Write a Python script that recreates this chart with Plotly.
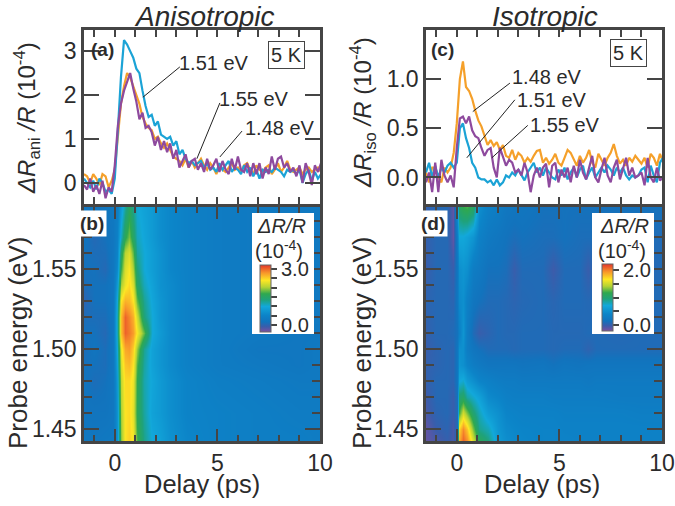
import plotly.graph_objects as go

W, H = 675, 506

delays = [-1.5,-1.35,-1.2,-1.05,-0.9,-0.75,-0.6,-0.45,-0.3,-0.15,
          0,0.15,0.3,0.45,0.6,0.75,0.9,1.05,1.2,1.35,
          1.5,1.65,1.8,1.95,2.1,2.25,2.4,2.55,2.7,2.85,
          3,3.15,3.3,3.45,3.6,3.75,3.9,4.05,4.2,4.35,
          4.5,4.65,4.8,4.95,5.1,5.25,5.4,5.55,5.7,5.85,
          6,6.15,6.3,6.45,6.6,6.75,6.9,7.05,7.2,7.35,
          7.5,7.65,7.8,7.95,8.1,8.25,8.4,8.55,8.7,8.85,
          9,9.15,9.3,9.45,9.6,9.75,9.9,10.05]

ani_148 = [0.2,0.15,0.0,0.2,0.1,-0.05,0.2,0.15,-0.1,0.05,
           0.3,1.1,1.8,2.2,2.5,2.4,2.2,1.95,1.8,1.5,
           1.35,1.25,1.2,1.0,1.05,0.9,0.8,0.9,0.75,0.6,
           0.55,0.5,0.4,0.55,0.35,0.5,0.35,0.45,0.55,0.4,
           0.3,0.45,0.35,0.2,0.4,0.3,0.25,0.35,0.45,0.3,
           0.35,0.25,0.4,0.45,0.3,0.2,0.4,0.3,0.25,0.35,
           0.4,0.2,0.3,0.45,0.25,0.35,0.5,0.3,0.25,0.3,
           0.35,0.2,0.3,0.35,0.25,0.3,0.35,0.25]
ani_151 = [0.1,0.0,-0.1,0.05,-0.15,0.1,0.0,-0.2,-0.15,-0.25,
           0.1,1.2,2.4,3.25,3.15,3.0,2.85,2.6,2.5,2.1,
           1.75,1.5,1.55,1.3,1.4,1.1,1.05,1.0,1.05,0.85,
           0.95,0.65,0.75,0.55,0.45,0.5,0.4,0.45,0.5,0.35,
           0.45,0.3,0.35,0.25,0.45,0.3,0.4,0.5,0.25,0.35,
           0.3,0.2,0.4,0.25,0.35,0.15,0.3,0.1,0.3,0.25,
           0.3,0.25,0.35,0.3,0.25,0.15,0.3,0.25,0.3,0.2,
           0.3,0.0,0.2,0.3,0.05,0.25,0.1,0.2]
ani_155 = [-0.05,-0.15,0.1,-0.2,-0.05,-0.25,0.05,-0.35,-0.1,-0.2,
           0.4,1.3,1.8,2.1,2.3,2.5,2.15,1.85,1.45,1.6,
           1.25,1.3,1.15,0.85,1.05,0.75,0.95,0.7,0.9,0.55,
           0.75,0.35,0.5,0.65,0.35,0.5,0.55,0.3,0.45,0.25,
           0.55,0.3,0.4,0.55,0.25,0.5,0.3,0.2,0.55,0.3,
           0.6,0.3,0.25,0.45,0.15,0.45,0.2,0.45,0.1,0.35,
           0.2,0.6,0.3,0.55,0.6,0.35,0.45,0.25,0.35,0.15,
           0.4,0.0,0.45,0.25,-0.05,0.4,0.25,0.45]

iso_148 = [0.05,-0.05,0.1,0.1,0.0,-0.05,0.1,0.05,0.1,0.25,
           0.55,1.0,1.18,0.92,0.88,0.8,0.68,0.58,0.52,0.42,
           0.33,0.38,0.32,0.36,0.28,0.33,0.22,0.2,0.28,0.18,
           0.25,0.22,0.15,0.2,0.16,0.22,0.27,0.28,0.15,0.2,
           0.14,0.18,0.24,0.15,0.12,0.2,0.28,0.25,0.18,0.12,
           0.22,0.15,0.2,0.28,0.15,0.1,0.24,0.18,0.12,0.2,
           0.25,0.34,0.22,0.14,0.18,0.12,0.2,0.16,0.22,0.18,
           0.14,0.2,0.1,0.24,0.2,0.12,0.24,0.16]
iso_151 = [0.05,0.15,0.0,0.12,0.0,0.1,0.05,0.12,0.15,0.1,
           0.15,0.5,0.55,0.4,0.3,0.15,0.1,0.0,-0.02,-0.02,
           -0.05,-0.03,-0.08,-0.02,-0.08,-0.05,0.02,0.0,0.05,0.02,
           0.08,0.02,-0.03,0.05,0.1,0.15,0.05,0.1,0.02,0.1,
           0.05,0.0,-0.02,0.08,0.02,0.1,-0.02,0.05,0.1,0.0,
           0.08,0.12,-0.02,0.05,0.1,0.0,0.05,0.1,0.05,0.12,
           0.08,0.02,0.1,0.05,0.1,0.02,-0.02,0.02,0.0,0.02,
           0.08,0.1,-0.05,0.12,0.02,-0.05,0.15,0.2]
iso_155 = [-0.05,0.05,-0.15,0.15,-0.15,0.18,0.02,-0.05,0.02,-0.1,
           0.3,0.6,0.62,0.55,0.62,0.48,0.42,0.4,0.3,0.22,
           0.28,0.3,0.1,0.0,0.3,0.22,0.12,0.18,0.15,0.05,
           0.08,0.02,0.15,0.05,-0.15,0.02,0.1,0.0,0.1,0.14,
           -0.1,0.12,0.15,-0.05,0.08,0.0,0.1,-0.05,0.12,0.0,
           0.18,0.05,-0.02,0.1,0.22,0.0,-0.05,0.08,0.2,0.02,
           -0.05,0.1,0.18,-0.02,0.08,0.2,0.02,0.1,0.0,0.02,
           0.05,-0.08,0.2,0.0,-0.05,0.1,-0.03,0.0]

b_delays = [-1.5,-1.0,-0.5,-0.1,0.1,0.3,0.5,0.7,0.9,1.1,1.4,1.8,2.2,2.7,3.5,5,7,9,10]
b_energies = [1.44,1.46,1.48,1.49,1.50,1.51,1.52,1.53,1.54,1.55,1.56,1.57,1.59]
b_z = [
    [.3,.25,.3,.3,.7,1.9,2.4,2.5,2.35,1.75,1.3,1.0,.9,.7,.55,.45,.4,.4,.35],
    [.2,.2,.2,.25,.7,2.0,2.4,2.45,2.25,1.6,1.2,.9,.8,.65,.5,.45,.4,.35,.35],
    [.2,.1,.15,.25,.8,2.1,2.45,2.45,2.3,1.65,1.15,.95,.8,.65,.5,.4,.35,.3,.3],
    [.15,.15,.1,.25,.9,2.2,2.55,2.6,2.4,1.75,1.2,.9,.75,.6,.45,.35,.3,.25,.3],
    [.1,.2,.1,.25,1.0,2.3,2.7,2.75,2.5,1.95,1.25,.9,.75,.6,.45,.35,.25,.25,.3],
    [.15,.15,.05,.25,1.1,2.6,3.0,2.9,2.75,2.35,1.8,1.0,.8,.6,.45,.35,.3,.25,.25],
    [.1,.1,.1,.25,1.1,2.6,3.0,2.85,2.65,2.15,1.35,1.0,.75,.6,.45,.35,.3,.3,.3],
    [.0,.15,.15,.25,1.0,2.4,2.65,2.6,2.4,1.8,1.25,.95,.75,.6,.45,.35,.3,.3,.3],
    [.1,.15,.15,.25,.8,2.0,2.3,2.45,2.2,1.5,1.1,.9,.7,.6,.45,.35,.3,.3,.3],
    [.15,.15,.05,.25,.6,1.7,2.2,2.35,2.0,1.35,1.0,.85,.7,.55,.45,.35,.3,.3,.3],
    [.15,.1,.1,.25,.5,1.5,2.05,2.2,1.8,1.2,1.0,.85,.7,.55,.45,.35,.3,.3,.3],
    [.2,.05,.15,.25,.45,1.1,1.6,1.85,1.5,1.1,.95,.8,.65,.55,.45,.35,.3,.3,.3],
    [.25,.2,.25,.3,.4,.8,1.2,1.5,1.25,1.0,.9,.8,.65,.55,.45,.35,.3,.3,.3],
]

d_delays = [-1.5,-1.0,-0.5,-0.2,0,0.1,0.3,0.5,0.8,1.1,1.5,
            2,2.4,2.8,3.2,4.2,4.7,5.2,6.0,6.4,6.8,8,9,10]
d_energies = [1.44,1.45,1.46,1.47,1.48,1.49,1.50,1.51,1.53,1.55,1.57,1.59]
d_z = [
    [-.12,-.08,.0,-.05,.1,1.9,2.1,2.0,1.6,1.2,1.0,.6,.5,.45,.42,.38,.38,.38,.36,.36,.36,.36,.36,.36],
    [-.12,.0,.05,-.05,.1,1.7,1.95,1.75,1.3,.9,.8,.55,.45,.42,.4,.38,.38,.36,.36,.36,.36,.36,.36,.36],
    [-.05,.05,.08,.0,.1,1.2,1.5,1.3,1.0,.8,.6,.5,.4,.38,.36,.36,.36,.34,.34,.34,.34,.34,.32,.32],
    [-.02,.08,.08,.0,.15,1.0,1.05,.85,.75,.65,.45,.4,.34,.32,.32,.32,.3,.3,.3,.3,.3,.28,.28,.28],
    [.02,.08,.08,.05,.2,.7,.75,.6,.5,.4,.35,.3,.28,.28,.26,.26,.26,.26,.26,.24,.26,.26,.26,.26],
    [.02,.05,.08,.05,.2,.55,.5,.4,.3,.25,.2,.2,.2,.2,.18,.2,.16,.2,.18,.2,.2,.2,.2,.2],
    [.0,.05,.08,.05,.2,.5,.5,.3,.2,.15,.1,.1,.1,.08,.1,.1,.08,.1,.1,.04,.1,.1,.1,.1],
    [.02,.08,.08,.1,.15,.35,.55,.3,.1,.0,.05,.1,.08,.08,.1,.1,.08,.08,.08,.1,.1,.08,.1,.1],
    [.05,.08,.08,.05,.2,.45,.5,.35,.2,.15,.1,.1,.08,.05,.08,.1,.06,.1,.1,.08,.1,.1,.1,.1],
    [.0,.08,.08,.0,.2,.5,.55,.5,.3,.25,.15,.15,.12,.0,.1,.1,-.02,.1,.1,.0,.1,.1,.05,.1],
    [.02,.08,.08,-.12,.3,.7,.7,.65,.55,.35,.25,.2,.16,.12,.15,.12,.12,.15,.12,.12,.12,.12,.12,.1],
    [.02,.08,.08,-.12,.5,1.1,1.2,1.25,1.1,.5,.35,.3,.22,.2,.2,.15,.15,.15,.15,.15,.15,.15,.15,.15],
]

ORANGE, BLUE, PURPLE = "#f5a02a", "#1ba3d6", "#8e4a9e"
INK = "#2b2b2b"
AX = "#454545"
FONT = "Liberation Sans"

scale = [[0, "#7d4f9f"], [0.08, "#3a5dab"], [0.15, "#1273bd"], [0.25, "#0c84c8"], [0.38, "#12a8da"], [0.48, "#1fa27a"],
         [0.57, "#2fa84f"], [0.67, "#b5d334"], [0.77, "#fde724"], [0.88, "#f8982a"], [1, "#e4352a"]]

fig = go.Figure()
for y, c, n in [(ani_148, ORANGE, "1.48 eV"), (ani_151, BLUE, "1.51 eV"), (ani_155, PURPLE, "1.55 eV")]:
    fig.add_trace(go.Scatter(x=delays, y=y, mode="lines", name=n, line=dict(color=c, width=2.2),
                             xaxis="x", yaxis="y", showlegend=False))
for y, c, n in [(iso_148, ORANGE, "1.48 eV"), (iso_151, BLUE, "1.51 eV"), (iso_155, PURPLE, "1.55 eV")]:
    fig.add_trace(go.Scatter(x=delays, y=y, mode="lines", name=n, line=dict(color=c, width=2.2),
                             xaxis="x3", yaxis="y3", showlegend=False))


def fx(px):
    return px / W


def fy(py):
    return 1 - py / H


def cbar(x0, y0, y1, labelled, vals):
    return dict(x=fx(x0), xanchor="left", y=fy((y0 + y1) / 2), yanchor="middle",
                len=(y1 - y0) / H, lenmode="fraction", thickness=11, thicknessmode="pixels",
                xpad=0, ypad=0, outlinewidth=1, outlinecolor="#666", ticks="outside", ticklen=6,
                tickcolor=AX, tickwidth=1.5, tickvals=vals,
                ticktext=[labelled.get(v, "") for v in vals],
                tickfont=dict(family=FONT, size=20, color=INK))


fig.add_trace(go.Heatmap(x=b_delays, y=b_energies, z=b_z, zsmooth="best", colorscale=scale, zmin=-0.37, zmax=3.2,
                         xaxis="x2", yaxis="y2",
                         colorbar=cbar(260, 265, 332, {0: "0.0", 3: "3.0"}, [0, .5, 1, 1.5, 2, 2.5, 3])))
fig.add_trace(go.Heatmap(x=d_delays, y=d_energies, z=d_z, zsmooth="best", colorscale=scale, zmin=-0.2, zmax=2.2,
                         xaxis="x4", yaxis="y4",
                         colorbar=cbar(602, 264, 331, {0: "0.0", 2: "2.0"}, [0, .5, 1, 1.5, 2])))


def ax(**k):
    d = dict(showgrid=False, zeroline=False, showline=True, linecolor=AX, linewidth=2.5, mirror="allticks",
             ticks="inside", tickcolor=AX, tickwidth=2.2, tickfont=dict(family=FONT, size=23, color=INK))
    d.update(k)
    return d


def xdom(a, b):
    return [fx(a), fx(b)]


def ydom(top, bot):
    return [fy(bot), fy(top)]


XR = [-1.5, 10]
fig.update_layout(
    width=W, height=H, autosize=False, margin=dict(l=0, r=0, t=0, b=0, autoexpand=False),
    paper_bgcolor="white", plot_bgcolor="white",
    font=dict(family=FONT, color=INK), showlegend=False,
    xaxis=ax(domain=xdom(84, 320), range=XR, dtick=1, tick0=0, ticklen=7, showticklabels=False, anchor="y"),
    yaxis=ax(domain=ydom(30, 204), range=[-0.48, 3.48], tickvals=[0, 1, 2, 3], ticklen=15, anchor="x"),
    xaxis2=ax(domain=xdom(84, 320), range=XR, tickvals=[0, 5, 10], ticklen=12, anchor="y2",
              minor=dict(dtick=1, tick0=0, ticks="inside", ticklen=6, tickcolor=AX, tickwidth=2)),
    yaxis2=ax(domain=ydom(207, 441), range=[1.4425, 1.589], tickvals=[1.45, 1.50, 1.55], tickformat=".2f", ticklen=15,
              anchor="x2", minor=dict(dtick=0.01, tick0=1.45, ticks="inside", ticklen=8, tickcolor=AX, tickwidth=2)),
    xaxis3=ax(domain=xdom(426, 662), range=XR, dtick=1, tick0=0, ticklen=7, showticklabels=False, anchor="y3"),
    yaxis3=ax(domain=ydom(30, 204), range=[-0.27, 1.5], tickvals=[0, 0.5, 1.0], tickformat=".1f", ticklen=15, anchor="x3"),
    xaxis4=ax(domain=xdom(426, 662), range=XR, tickvals=[0, 5, 10], ticklen=12, anchor="y4",
              minor=dict(dtick=1, tick0=0, ticks="inside", ticklen=6, tickcolor=AX, tickwidth=2)),
    yaxis4=ax(domain=ydom(207, 441), range=[1.4425, 1.589], tickvals=[1.45, 1.50, 1.55], tickformat=".2f", ticklen=15,
              anchor="x4", minor=dict(dtick=0.01, tick0=1.45, ticks="inside", ticklen=8, tickcolor=AX, tickwidth=2)),
)

notes = []


def note(px, py, text, size, **k):
    notes.append(dict(x=fx(px), y=fy(py), xref="paper", yref="paper", text=text, showarrow=False,
                      font=dict(family=FONT, size=size, color=k.pop("color", INK)), xanchor="center", yanchor="middle", **k))


note(204, 16, "<i>Anisotropic</i>", 28)
note(545, 16, "<i>Isotropic</i>", 28)
note(27, 118, "<i>ΔR</i><sub>ani</sub> <i>/R</i> (10<sup>-4</sup>)", 24, textangle=-90)
note(363, 113, "<i>ΔR</i><sub>iso</sub> <i>/R</i> (10<sup>-4</sup>)", 24, textangle=-90)
note(18, 343, "Probe energy (eV)", 26, textangle=-90)
note(362, 343, "Probe energy (eV)", 26, textangle=-90)
note(202, 484, "Delay (ps)", 25.5)
note(542, 484, "Delay (ps)", 25.5)
note(102, 49, "<b>(a)</b>", 19)
note(442, 49, "<b>(c)</b>", 19)
note(92, 223, "<b>(b)</b>", 19, bgcolor="white", borderpad=2)
note(433, 223, "<b>(d)</b>", 19, bgcolor="white", borderpad=2)
note(286, 55, "5 K", 20, bordercolor=AX, borderwidth=1, borderpad=2, bgcolor="white")
note(628, 53, "5 K", 20, bordercolor=AX, borderwidth=1, borderpad=2, bgcolor="white")
note(214, 63, "1.51 eV", 20)
note(254, 99, "1.55 eV", 20)
note(280, 128, "1.48 eV", 20)
note(547, 77, "1.48 eV", 20)
note(552, 100, "1.51 eV", 20)
note(565, 125, "1.55 eV", 20)
note(281, 226, "<i>ΔR/R</i>", 20)
note(279, 249, "(10<sup>-4</sup>)", 20)
note(624, 226, "<i>ΔR/R</i>", 20)
note(622, 249, "(10<sup>-4</sup>)", 20)
fig.update_layout(annotations=notes)

shapes = []
for xa, ya, x0, y0, x1, y1 in [("x", "y", 1.37, 1.95, 3.17, 2.64), ("x", "y", 4.0, 0.55, 5.12, 1.82),
                               ("x", "y", 5.12, 0.59, 6.2, 1.18), ("x3", "y3", 0.78, 0.67, 2.59, 0.96),
                               ("x3", "y3", 0.49, 0.2, 2.83, 0.79), ("x3", "y3", 1.71, 0.2, 3.46, 0.53)]:
    shapes.append(dict(type="line", xref=xa, yref=ya, x0=x0, y0=y0, x1=x1, y1=y1, line=dict(color="#222", width=1)))
for a, b in [(252, 314), (592, 654)]:
    shapes.append(dict(type="rect", xref="paper", yref="paper", x0=fx(a), x1=fx(b), y0=fy(334), y1=fy(213),
                       fillcolor="white", line=dict(width=0), layer="above"))
fig.update_layout(shapes=shapes)

fig.write_html("out.html", config={"displayModeBar": False, "responsive": False},
               post_script="document.body.style.margin='0';")
